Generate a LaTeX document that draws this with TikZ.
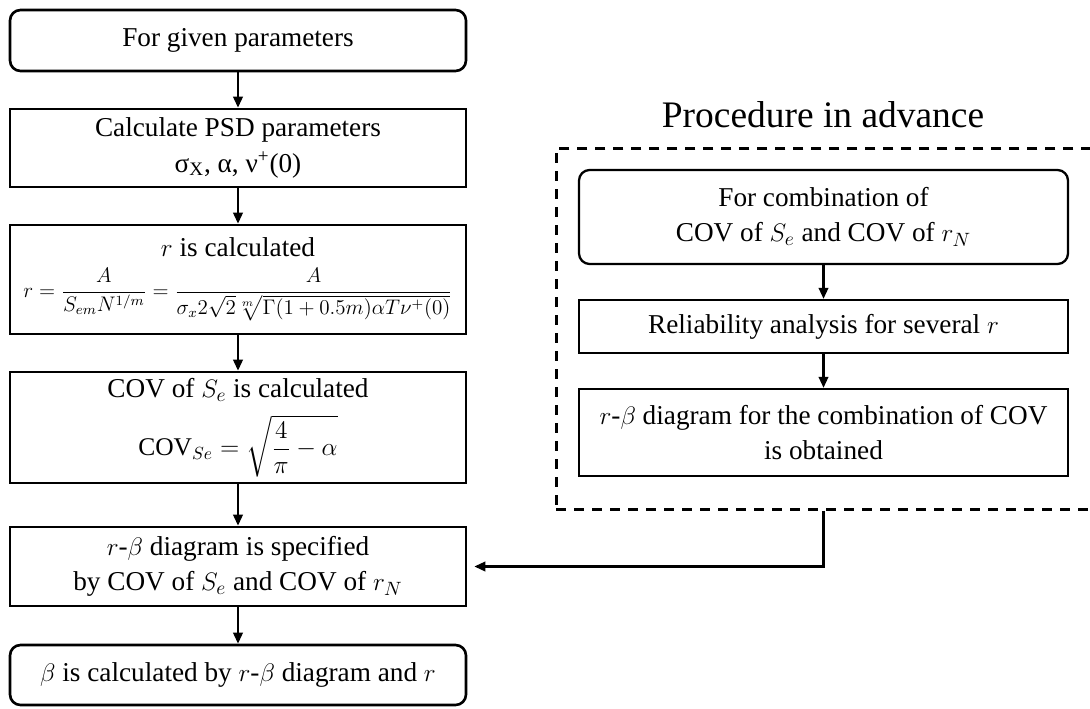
\documentclass[tikz,border=0pt]{standalone}
\usepackage{amsmath}
\usepackage{fontspec}
\setmainfont{Liberation Serif}
\usepackage{xcolor}
\usepackage{tikz}
\usetikzlibrary{arrows.meta,positioning,calc}
\definecolor{tinta}{HTML}{000000}

\begin{document}
\begin{tikzpicture}[
  font=\fontsize{15.5}{20}\selectfont,
  caja/.style={draw=tinta,line width=1.5pt,fill=white,inner sep=0pt,align=center,minimum width=9.12cm},
  cajaredonda/.style={caja,rounded corners=6pt},
  paso/.style={draw=tinta,line width=1.3pt,fill=white,inner sep=0pt,align=center,minimum width=9.78cm},
  pasoredondo/.style={paso,rounded corners=6pt},
  grupo/.style={draw=tinta,line width=1.5pt,dash pattern=on 0.2cm off 0.16cm},
  flecha/.style={-{Triangle[length=2.2mm,width=1.9mm]},line width=1.3pt,tinta}]
\useasboundingbox (0,0) rectangle (21.8,-14.18);
% columna principal
\node[cajaredonda,minimum height=1.22cm] (dados) at (4.76,-0.81) {For given parameters};
\node[caja,minimum height=1.56cm] (psd) at (4.76,-2.96) {Calculate PSD parameters\\ σ\textsubscript{X}, α, ν\textsuperscript{+}(0)};
\node[caja,minimum height=2.18cm] (calcr) at (4.76,-5.59) {$r$ is calculated\\[3pt]
  {\fontsize{12}{14}\selectfont$r=\dfrac{A}{S_{em}N^{1/m}}=\dfrac{A}{\sigma_x 2\sqrt{2}\sqrt[m]{\Gamma(1+0.5m)\alpha T\nu^{+}(0)}}$}};
\node[caja,minimum height=2.22cm] (calccov) at (4.76,-8.55) {COV of $S_e$ is calculated\\[7pt]
  {\fontsize{14.5}{17}\selectfont$\mathrm{COV}_{Se}=\sqrt{\dfrac{4}{\pi}-\alpha}$}};
\node[caja,minimum height=1.58cm] (diag) at (4.76,-11.33) {$r$-$\beta$ diagram is specified\\ by COV of $S_e$ and COV of $r_N$};
\node[cajaredonda,minimum height=1.2cm] (beta) at (4.76,-13.5) {$\beta$ is calculated by $r$-$\beta$ diagram and $r$};
% procedimiento previo
\node[font=\fontsize{21.3}{25}\selectfont] (titulo) at (16.46,-2.3) {Procedure in advance};
\node[grupo,minimum width=11.1cm,minimum height=7.22cm,anchor=north west] (previo) at (11.1,-2.94) {};
\node[pasoredondo,minimum height=1.88cm] (comb) at (16.47,-4.34) {For combination of\\ COV of $S_e$ and COV of $r_N$};
\node[paso,minimum height=1.06cm] (fiab) at (16.47,-6.53) {Reliability analysis for several $r$};
\node[paso,minimum height=1.74cm] (obt) at (16.47,-8.65) {$r$-$\beta$ diagram for the combination of COV\\ is obtained};
% conectores
\draw[flecha] (dados) -- (psd);
\draw[flecha] (psd) -- (calcr);
\draw[flecha] (calcr) -- (calccov);
\draw[flecha] (calccov) -- (diag);
\draw[flecha] (diag) -- (beta);
\draw[flecha] (comb) -- (fiab);
\draw[flecha] (fiab) -- (obt);
\draw[flecha,shorten >=4pt] (obt |- previo.south) |- (diag.east);
\end{tikzpicture}
\end{document}
